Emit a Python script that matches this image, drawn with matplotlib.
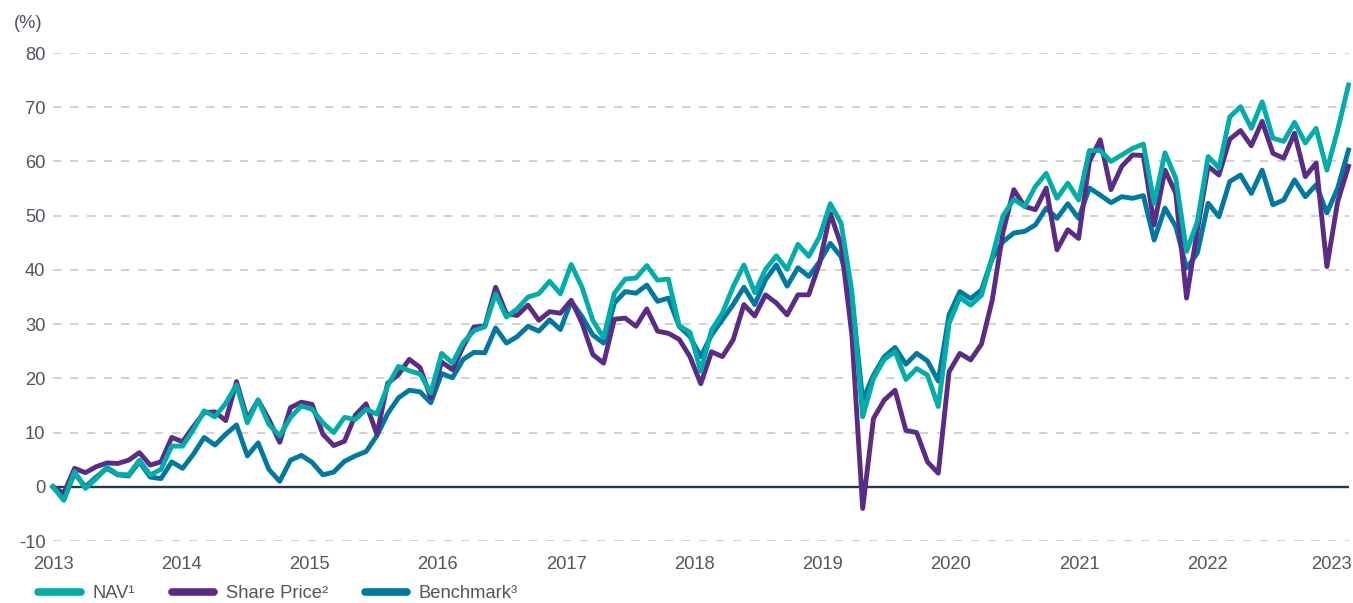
import matplotlib
matplotlib.use("Agg")
import matplotlib.pyplot as plt
import matplotlib.transforms as mtransforms
import numpy as np

plt.rcParams['font.family'] = ['Liberation Sans', 'DejaVu Sans']
plt.rcParams['axes.unicode_minus'] = False

# monthly cumulative returns (%), Jan 2013 .. Jan 2023
nav = [
    0, -2.5, 2.8, -0.3, 1.5, 3.6, 2.3, 2.2, 4.9, 2.2, 3.2, 7.5, 7.5, 10.5, 14.0, 12.9, 15.4, 18.8,
    11.8, 16.0, 11.5, 9.4, 12.8, 14.9, 14.3, 11.8, 10.0, 12.8, 12.4, 14.3, 13.4, 18.6, 22.2, 21.4, 20.8,
    17.3, 24.6, 22.8, 26.6, 28.8, 29.5, 35.6, 31.3, 32.8, 35.0, 35.6, 37.9, 35.6, 41.0, 36.8, 30.7, 27.5,
    35.7, 38.3, 38.5, 40.8, 38.1, 38.3, 29.7, 28.5, 21.3, 28.9, 32.0, 36.9, 40.9, 35.8, 40.1, 42.6, 40.1, 44.7, 42.5, 46.1,
    52.2, 48.6, 36.0, 12.9, 20.0, 23.5, 24.9, 19.8, 21.8, 20.6, 14.8, 30.1, 34.9, 33.5, 35.3, 42.4,
    50.0, 53.0, 51.7, 55.4, 57.8, 53.2, 56.0, 52.9, 62.0, 62.0, 60.0, 61.2, 62.4, 63.2, 52.3, 61.6, 56.9,
    43.4, 48.9, 60.9, 58.8, 68.2, 70.1, 66.1, 71.0, 64.3, 63.7, 67.2, 63.4, 66.1, 58.4, 65.8, 74.1,
]
share_price = [
    0, -1.2, 3.4, 2.6, 3.7, 4.4, 4.3, 4.9, 6.3, 4.0, 4.6, 9.1, 8.3, 11.1, 13.7, 13.8, 12.2, 19.4,
    12.5, 16.0, 12.4, 8.2, 14.6, 15.6, 15.2, 9.7, 7.6, 8.4, 13.2, 15.3, 9.7, 19.1, 20.7, 23.5, 22.0,
    16.4, 23.0, 21.6, 25.9, 29.5, 29.6, 36.8, 31.9, 31.6, 33.5, 30.7, 32.3, 32.0, 34.4, 30.2, 24.4, 22.8,
    30.9, 31.1, 29.6, 32.8, 28.7, 28.3, 27.2, 24.0, 19.0, 24.9, 24.0, 27.1, 33.6, 31.5, 35.4, 33.9, 31.7, 35.4, 35.4, 41.2,
    50.4, 44.6, 28.0, -4.0, 12.6, 16.0, 17.8, 10.4, 10.0, 4.6, 2.5, 21.2, 24.6, 23.4, 26.3, 34.4,
    47.0, 54.8, 51.7, 51.1, 55.1, 43.7, 47.4, 45.8, 60.0, 64.0, 54.8, 59.1, 61.2, 61.1, 48.3, 58.4, 54.1,
    34.8, 47.4, 59.1, 57.5, 64.1, 65.7, 62.9, 67.4, 61.5, 60.6, 65.2, 57.2, 59.7, 40.6, 52.6, 59.1,
]
benchmark = [
    0, -2.3, 2.5, 0.0, 1.8, 3.4, 2.2, 2.0, 4.6, 1.8, 1.5, 4.6, 3.4, 6.0, 9.1, 7.7, 9.7, 11.4,
    5.7, 8.1, 3.2, 1.0, 4.9, 5.8, 4.5, 2.2, 2.7, 4.7, 5.7, 6.5, 9.4, 13.5, 16.4, 17.8, 17.5,
    15.5, 20.9, 20.1, 23.5, 24.8, 24.7, 29.3, 26.5, 27.7, 29.6, 28.7, 30.8, 29.0, 34.2, 31.4, 28.0, 26.5,
    33.9, 36.0, 35.7, 37.2, 34.2, 34.8, 29.6, 27.7, 24.0, 28.0, 30.8, 33.6, 36.8, 33.6, 38.2, 40.9, 37.0, 40.4, 38.8, 41.5,
    44.9, 42.4, 35.0, 16.0, 20.6, 24.0, 25.7, 22.6, 24.6, 23.2, 19.5, 31.7, 36.0, 34.7, 36.3, 42.1,
    45.2, 46.8, 47.1, 48.3, 51.4, 49.5, 52.2, 49.5, 55.1, 53.8, 52.4, 53.5, 53.2, 53.7, 45.5, 51.4, 48.0,
    40.3, 43.1, 52.3, 49.8, 56.3, 57.5, 54.1, 58.4, 52.0, 52.9, 56.6, 53.5, 55.7, 50.5, 55.1, 62.1,
]
years = ['2013', '2014', '2015', '2016', '2017', '2018', '2019', '2020', '2021', '2022', '2023']
y_ticks = [-10, 0, 10, 20, 30, 40, 50, 60, 70, 80]

months = np.arange(len(nav))
year_pos = np.arange(len(years)) * 11.88
year_pos[-1] = months[-1]  # last label is right-aligned to the end of the data

c_nav = '#00ada8'
c_sp = '#5a2c86'
c_bm = '#0078a0'
txt = '#50565f'

fig = plt.figure(figsize=(13.53, 6.03), dpi=100)
ax = fig.add_axes([53 / 1353, 1 - 541 / 603, 1295.5 / 1353, 488 / 603])

# dashed gridlines, solid dark zero line
for y in y_ticks:
    ax.axhline(y, color='#c9c9cd', lw=1.2, dashes=(5, 5.2), zorder=1)
ax.axhline(0, color='#26394a', lw=1.7, zorder=2)

l_bm, = ax.plot(months, benchmark, color=c_bm, lw=3.5, zorder=3, clip_on=False)
l_sp, = ax.plot(months, share_price, color=c_sp, lw=3.5, zorder=4, clip_on=False)
l_nav, = ax.plot(months, nav, color=c_nav, lw=3.5, zorder=5, clip_on=False)

ax.set_xlim(0, 120)
ax.set_ylim(-10, 80)
ax.set_yticks(y_ticks)
ax.set_xticks(year_pos)
ax.set_xticklabels(years)
ax.tick_params(axis='both', length=0, labelsize=13.2, colors=txt)
ax.tick_params(axis='x', pad=10.5)
ax.tick_params(axis='y', pad=5.5)
for s in ax.spines.values():
    s.set_visible(False)

last = ax.get_xticklabels()[-1]
last.set_horizontalalignment('right')
last.set_transform(last.get_transform() +
                   mtransforms.ScaledTranslation(3 / 100, 0, fig.dpi_scale_trans))

fig.text(14 / 1353, 1 - 24 / 603, '(%)', fontsize=13.2, color=txt, va='center', ha='left')

leg = fig.legend([l_nav, l_sp, l_bm], ['NAV¹', 'Share Price²', 'Benchmark³'],
                 loc='center left', bbox_to_anchor=(31 / 1353, 1 - 594 / 603), ncol=3,
                 frameon=False, fontsize=13.2, handlelength=2.3, handletextpad=0.65,
                 columnspacing=2.0, labelcolor=txt, borderaxespad=0)
for h in leg.get_lines():
    h.set_linewidth(5.5)
    h.set_solid_capstyle('round')

fig.savefig('out.png', dpi=100)
